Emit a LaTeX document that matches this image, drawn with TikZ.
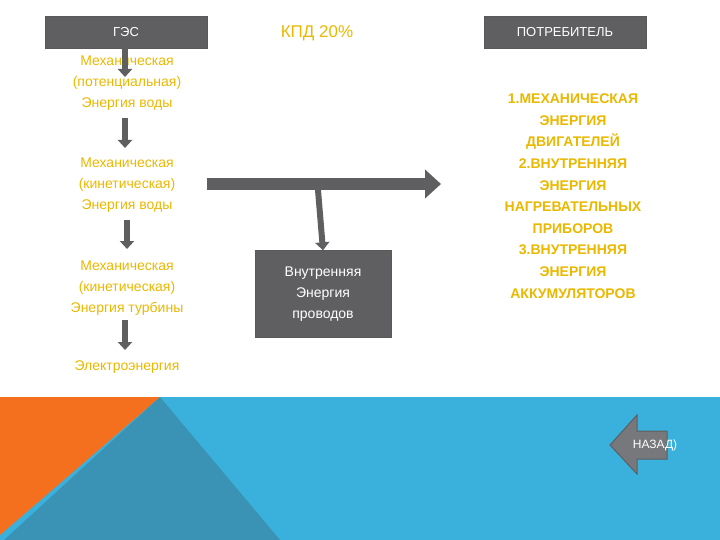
\documentclass[tikz,border=0pt]{standalone}
\usepackage{fontspec}
\setmainfont{Liberation Sans}
\usetikzlibrary{arrows.meta}
\definecolor{boxgray}{HTML}{5F5F62}
\definecolor{goldc}{HTML}{EBB800}
\definecolor{bl}{HTML}{3AB1DC}
\definecolor{dk}{HTML}{3A92B4}
\definecolor{orc}{HTML}{F4701F}
\definecolor{backc}{HTML}{77787B}
\begin{document}
\begin{tikzpicture}[x=1pt,y=-1pt,
  gbox/.style={draw=gray!70!black,fill=boxgray,text=white,font=\fontsize{13}{15}\selectfont,inner sep=0pt},
  gold/.style={text=goldc,font=\fontsize{14}{21}\selectfont,align=center},
  garrow/.style={draw=boxgray,line width=6pt,-{Triangle[length=8pt,width=14pt]}}]
\useasboundingbox (0,0) rectangle (720,540);
\fill[white] (0,0) rectangle (720,540);
\fill[bl] (0,397) rectangle (720,540);
\fill[orc] (0,397) -- (160,397) -- (0,535) -- cycle;
\fill[dk] (160,397) -- (280,540) -- (4,540) -- cycle;
\node[gbox,minimum width=162,minimum height=32] (ges) at (126,32) {ГЭС};
\node[gbox,minimum width=162,minimum height=32] (pot) at (565,32) {ПОТРЕБИТЕЛЬ};
\node[text=goldc,font=\fontsize{17}{20}\selectfont] (kpd) at (317,33) {КПД 20\%};
\node[gold] (t1) at (127,83) {Механическая\\(потенциальная)\\Энергия воды};
\node[gold] (t2) at (127,185) {Механическая\\(кинетическая)\\Энергия воды};
\node[gold] (t3) at (127,288) {Механическая\\(кинетическая)\\Энергия турбины};
\node[gold] (t4) at (127,367) {Электроэнергия};
\node[gbox,minimum width=136,minimum height=87,align=center,font=\fontsize{14}{21}\selectfont] (wire) at (323,294) {Внутренняя\\Энергия\\проводов};
\node[text=goldc,font=\bfseries\fontsize{14}{21.6}\selectfont,align=center] (cons) at (573,196) {1.МЕХАНИЧЕСКАЯ\\ЭНЕРГИЯ\\ДВИГАТЕЛЕЙ\\2.ВНУТРЕННЯЯ\\ЭНЕРГИЯ\\НАГРЕВАТЕЛЬНЫХ\\ПРИБОРОВ\\3.ВНУТРЕННЯЯ\\ЭНЕРГИЯ\\АККУМУЛЯТОРОВ};
\coordinate (a1s) at (125,48); \coordinate (a1e) at (125,77);
\coordinate (a2s) at (125,118); \coordinate (a2e) at (125,148);
\coordinate (a3s) at (127,220); \coordinate (a3e) at (127,249);
\coordinate (a4s) at (125,320); \coordinate (a4e) at (125,350);
\draw[garrow] (a1s) -- (a1e);
\draw[garrow] (a2s) -- (a2e);
\draw[garrow] (a3s) -- (a3e);
\draw[garrow] (a4s) -- (a4e);
\coordinate (bs) at (207,184); \coordinate (be) at (441,184);
\draw[draw=boxgray,line width=12pt,-{Triangle[length=16pt,width=28pt]}] (bs) -- (be);
\coordinate (ds) at (318,190);
\draw[garrow] (ds) -- (wire.north);
\filldraw[fill=backc,draw=boxgray,line width=1pt] (667,431) -- (637,431) -- (637,415) -- (610,445) -- (637,474) -- (637,459) -- (667,459) -- cycle;
\node[text=white,font=\fontsize{12}{14}\selectfont,inner sep=0pt] (back) at (655,445) {НАЗАД)};
\end{tikzpicture}
\end{document}
